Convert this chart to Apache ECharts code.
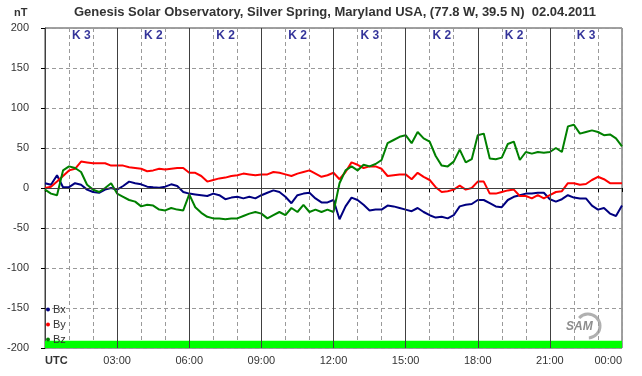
<!DOCTYPE html>
<html>
<head>
<meta charset="utf-8">
<script src="https://cdn.jsdelivr.net/npm/echarts@6/dist/echarts.min.js"></script>
<style>
  html, body { margin: 0; padding: 0; background: #fff; }
  #chart { width: 642px; height: 376px; }
</style>
</head>
<body>
<div id="chart"></div>
<script>
// sample times, hours UTC (every 15 min)
var stepHours = 0.25;
var hours = [];
for (var i = 0; i <= 96; i++) hours.push(i * stepHours);

// magnetometer components, nT
var bx = [6, 4, 16, 1, 1, 6, 4, -2, -5, -6, -2, 0, -2, 2.5, 8, 6,
  4.6, 1.7, 1, 0.4, 1.7, 4.6, 2.5, -5, -7, -8, -9, -10, -7, -9, -14, -12,
  -11, -13, -11, -13, -9, -6, -3, -5, -11, -19, -9, -7, -6, -13, -18, -18,
  -15, -39, -23, -12, -15, -21, -28, -27, -27, -22, -23, -25, -27, -29, -25, -30,
  -34, -37, -36, -38, -34, -23, -21, -20, -15, -15, -19, -23, -24, -15, -11, -9,
  -7, -7, -6, -6, -14, -17, -14, -9, -12, -13, -13, -22, -27, -25, -32, -35, -22];

var by = [0, 1.5, 8, 15, 22, 24, 33, 32, 31, 31, 31, 28, 28, 28, 26, 25,
  24, 21, 22, 24, 23, 24, 25, 25, 19, 19, 15, 8, 10, 12, 13, 15,
  16, 18, 17, 16, 17, 17, 20, 19, 17, 15, 18, 20, 22, 18, 14, 16,
  19, 11, 20, 32, 29, 25, 27, 27, 24, 15, 16, 17, 17, 11, 19, 14,
  10, 1, -5, -4, -2, 3, -2, 0, 8, 8, -7, -7, -5, -3, -2, -10,
  -10, -13, -9, -13, -9, -5, -4, 6, 6, 4, 5, 10, 14, 11, 6, 6, 6];

var bz = [-2, -7, -9, 22, 27, 25, 20, 4, -2, -5, 0, 6, -7, -11, -15, -17,
  -23, -21, -22, -27, -28, -25, -27, -28, -8, -24, -31, -36, -38, -38, -39, -38,
  -38, -35, -32, -30, -32, -38, -34, -30, -34, -25, -30, -21, -30, -27, -30, -27,
  -30, 6, 22, 27, 22, 29, 27, 30, 35, 56, 60, 64, 66, 56, 70, 62,
  58, 40, 28, 27, 33, 48, 32, 36, 66, 68, 37, 36, 38, 55, 58, 35,
  45, 43, 45, 44, 45, 50, 45, 77, 79, 68, 70, 72, 70, 66, 67, 62, 52];

// K index per 3 hour block
var kIndex = [3, 2, 2, 2, 3, 2, 2, 3];
var kBlockStart = [0, 3, 6, 9, 12, 15, 18, 21];

var tickLabels = ['UTC', '03:00', '06:00', '09:00', '12:00', '15:00', '18:00', '21:00', '00:00'];
var bandTop = -191;

var font = '"Liberation Sans", Arial, sans-serif';

function pairs(vals) {
  return hours.map(function (h, i) { return [h, vals[i]]; });
}

var myChart = echarts.init(document.getElementById('chart'));
var option = {
  animation: false,
  backgroundColor: '#fff',
  textStyle: { fontFamily: font },
  graphic: [
    {
      type: 'text', x: 335, y: 6,
      style: {
        text: 'Genesis Solar Observatory, Silver Spring, Maryland USA, (77.8 W, 39.5 N)  02.04.2011',
        font: 'bold 13px ' + font, fill: '#333', textAlign: 'center'
      }
    },
    { type: 'text', x: 14, y: 7, style: { text: 'nT', font: 'bold 11px ' + font, fill: '#333' } },
    // SAM logo
    {
      type: 'group', x: 564, y: 314, z: 10,
      children: [
        { type: 'arc', shape: { cx: 24, cy: 12, r: 12, startAngle: -2.4, endAngle: 1.5 },
          style: { stroke: '#b0b0b0', lineWidth: 3, fill: null } },
        { type: 'text', x: 2, y: 7, style: { text: 'SAM', font: 'italic bold 12px ' + font, fill: '#8c8c8c' } }
      ]
    }
  ],
  legend: {
    data: ['Bx', 'By', 'Bz'],
    orient: 'vertical',
    left: 46, top: 304,
    icon: 'circle',
    itemWidth: 4, itemHeight: 4, itemGap: 4,
    padding: 0,
    textStyle: { fontSize: 11, color: '#333', padding: [0, 0, 0, -2] }
  },
  grid: {
    left: 45, right: 20, top: 28, bottom: 28,
    show: true, borderColor: '#404040', borderWidth: 1
  },
  xAxis: {
    type: 'value', min: 0, max: 24, interval: 1,
    axisLine: { lineStyle: { color: '#000' } },
    axisTick: { length: 4, lineStyle: { color: '#000' } },
    axisLabel: {
      margin: 7, fontSize: 11, color: '#333',
      showMinLabel: true, showMaxLabel: true,
      alignMinLabel: 'left', alignMaxLabel: 'right',
      formatter: function (v) {
        if (v % 3 !== 0) return '';
        var s = tickLabels[v / 3];
        return v === 0 ? '{b|' + s + '}' : s;
      },
      rich: { b: { fontWeight: 'bold', fontSize: 11, color: '#333' } }
    },
    splitLine: { show: true, lineStyle: { color: '#9a9a9a', type: [4, 3], width: 1 } }
  },
  yAxis: {
    type: 'value', min: -200, max: 200, interval: 50,
    axisLine: { show: true, lineStyle: { color: '#404040' } },
    axisTick: { show: true, length: 4, lineStyle: { color: '#000' } },
    axisLabel: { margin: 16, fontSize: 11, color: '#333' },
    splitLine: { show: true, lineStyle: { color: '#9a9a9a', type: [4, 3], width: 1 } }
  },
  series: [
    {
      name: 'band', type: 'line', data: [], z: 1, silent: true,
      markArea: {
        silent: true,
        itemStyle: { color: '#00ff00', opacity: 1 },
        data: [[{ yAxis: -200 }, { yAxis: bandTop }]]
      }
    },
    {
      name: 'grid', type: 'line', data: [], z: 2, silent: true,
      markLine: {
        silent: true, symbol: ['none', 'none'], animation: false,
        label: { show: false },
        lineStyle: { color: '#404040', type: 'solid', width: 1 },
        data: [3, 6, 9, 12, 15, 18, 21].map(function (h) { return { xAxis: h }; })
          .concat([{ yAxis: 0 }])
      }
    },
    {
      name: 'Bx', type: 'line', data: pairs(bx), z: 3,
      showSymbol: false, color: '#000080', lineStyle: { width: 2 }
    },
    {
      name: 'By', type: 'line', data: pairs(by), z: 3,
      showSymbol: false, color: '#ff0000', lineStyle: { width: 2 }
    },
    {
      name: 'Bz', type: 'line', data: pairs(bz), z: 3,
      showSymbol: false, color: '#008000', lineStyle: { width: 2 }
    },
    {
      name: 'K', type: 'scatter', z: 4, silent: true,
      symbolSize: 1, itemStyle: { color: 'rgba(0,0,0,0)' },
      data: kIndex.map(function (k, i) { return [kBlockStart[i] + 1.1, 190, k]; }),
      label: {
        show: true, position: 'right', distance: 0,
        formatter: function (p) { return 'K ' + p.value[2]; },
        fontSize: 12, fontWeight: 'bold', color: '#000080'
      }
    }
  ]
};
myChart.setOption(option);
</script>
</body>
</html>
